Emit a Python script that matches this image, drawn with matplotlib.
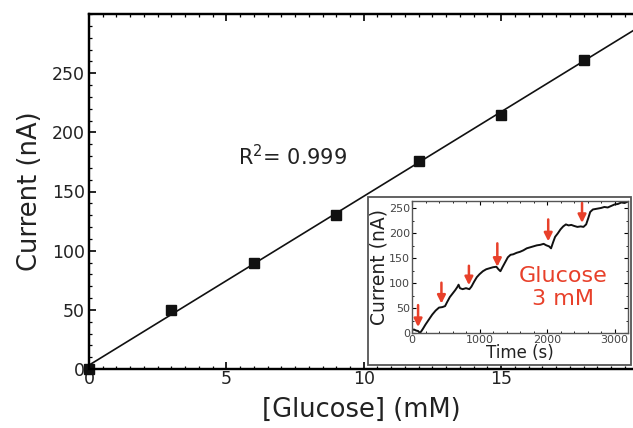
import numpy as np
import matplotlib
matplotlib.use("Agg")
import matplotlib.pyplot as plt
from matplotlib.patches import Rectangle
from matplotlib.ticker import MultipleLocator, FixedLocator

plt.rcParams['font.family'] = ['DejaVu Sans']

# ---- data ----
glucose_mM = [0, 3, 6, 9, 12, 15, 18]
current_nA = [0, 50, 90, 130, 176, 215, 261]
r2_text = "R$^2$= 0.999"

time_s = [0, 30, 60, 90, 110, 130, 160, 200, 250, 300, 350, 400, 450, 490, 520, 560,
          600, 640, 670, 690, 710, 750, 800, 850, 880, 920, 960, 1000, 1050, 1100,
          1150, 1200, 1250, 1280, 1310, 1340, 1380, 1420, 1460, 1500, 1550, 1600,
          1650, 1700, 1750, 1800, 1850, 1900, 1950, 1990, 2030, 2060, 2090, 2120,
          2160, 2200, 2240, 2280, 2320, 2360, 2400, 2450, 2500, 2540, 2580, 2610,
          2640, 2680, 2720, 2760, 2800, 2850, 2900, 2950, 3000, 3050, 3100, 3150, 3200]
trace_nA = [6, 7, 5, 4, 1, 2, 8, 17, 27, 37, 45, 51, 52, 54, 62, 72,
            79, 86, 92, 97, 90, 88, 90, 88, 93, 103, 112, 118, 124, 128,
            130, 132, 133, 128, 124, 132, 142, 152, 157, 158, 161, 163,
            166, 170, 172, 174, 176, 177, 179, 176, 174, 170, 182, 193,
            200, 208, 214, 218, 216, 217, 215, 213, 214, 213, 218, 230,
            243, 248, 249, 250, 251, 253, 252, 255, 258, 259, 262, 261, 264]
arrow_t = [90, 436, 843, 1264, 2018, 2519]
arrow_top = [56, 101, 135, 180, 228, 261]
arrow_tip = [12, 59, 96, 133, 184, 221]

RED = "#e8402a"
TXT = "#222222"

fig = plt.figure(figsize=(6.33, 4.28), dpi=100)
ax = fig.add_axes([89/633, 1-369/428, 1-89/633, (369-14)/428])

ax.plot(glucose_mM, current_nA, 's', color='#111111', markersize=7, clip_on=False, zorder=5)
slope, intercept = np.polyfit(glucose_mM, current_nA, 1)
xl = np.array([0, 19.8])
ax.plot(xl, slope*xl + intercept, color='#111111', lw=1.2)

ax.set_xlim(0, 19.8)
ax.set_ylim(0, 300)
ax.xaxis.set_major_locator(FixedLocator([0, 5, 10, 15]))
ax.xaxis.set_minor_locator(MultipleLocator(0.5))
ax.yaxis.set_major_locator(FixedLocator([0, 50, 100, 150, 200, 250]))
ax.yaxis.set_minor_locator(MultipleLocator(10))
ax.tick_params(axis='both', which='major', direction='in', length=5, width=1.2,
               labelsize=12.5, labelcolor=TXT, top=False, right=False)
ax.tick_params(axis='both', which='minor', direction='in', length=2.5, width=0.9,
               top=False, right=False)
ax.tick_params(axis='x', pad=1)
ax.tick_params(axis='y', pad=3)
for s in ['left', 'bottom', 'top']:
    ax.spines[s].set_linewidth(1.6)
ax.spines['right'].set_visible(False)

# top axis ticks (unlabelled)
axt = ax.twiny()
axt.set_xlim(ax.get_xlim())
step = 137.5/27.5
axt.xaxis.set_major_locator(FixedLocator([0, step, 2*step, 3*step]))
axt.xaxis.set_minor_locator(MultipleLocator(step/10))
axt.tick_params(axis='x', which='major', direction='in', length=5, width=1.2, labeltop=False)
axt.tick_params(axis='x', which='minor', direction='in', length=2.5, width=0.9)
axt.spines['right'].set_visible(False)
for s in ['left', 'bottom', 'top']:
    axt.spines[s].set_linewidth(1.6)

ax.set_xlabel("[Glucose] (mM)", fontsize=18.5, color=TXT, labelpad=6)
ax.set_ylabel("Current (nA)", fontsize=18.5, color=TXT, labelpad=6)
ax.text(0.274, 0.597, r2_text, transform=ax.transAxes, fontsize=15, color=TXT, va='center')

# inset frame
fig.patches.append(Rectangle((368/633, 1-365/428), (631-368)/633, (365-197)/428,
                             transform=fig.transFigure, facecolor='white',
                             edgecolor='#555555', lw=1.3, zorder=3))

ins = fig.add_axes([412/633, 1-333/428, (628-412)/633, (333-201)/428], zorder=4)
ins.plot(time_s, trace_nA, color='#111111', lw=1.4)
for t, y0, y1 in zip(arrow_t, arrow_top, arrow_tip):
    ins.annotate("", xy=(t, y1), xytext=(t, y0),
                 arrowprops=dict(arrowstyle='-|>', color=RED, lw=1.8, mutation_scale=12,
                                 shrinkA=0, shrinkB=0))
ins.set_xlim(0, 3200)
ins.set_ylim(0, 265)
ins.xaxis.set_major_locator(FixedLocator([0, 1000, 2000, 3000]))
ins.xaxis.set_minor_locator(MultipleLocator(200))
ins.yaxis.set_major_locator(FixedLocator([0, 50, 100, 150, 200, 250]))
ins.yaxis.set_minor_locator(MultipleLocator(25))
ins.tick_params(axis='both', which='major', direction='in', length=3, width=0.8,
                labelsize=8, labelcolor='#444444', pad=1.5, top=True, right=True)
ins.tick_params(axis='both', which='minor', direction='in', length=1.5, width=0.6,
                top=True, right=True)
for s in ins.spines.values():
    s.set_linewidth(1.0)
    s.set_edgecolor('#555555')
ins.set_xlabel("Time (s)", fontsize=12, color=TXT, labelpad=-1)
ins.set_ylabel("Current (nA)", fontsize=13.5, color=TXT, labelpad=0)
ins.text(0.70, 0.345, "Glucose\n3 mM", transform=ins.transAxes, color=RED,
         fontsize=16, ha='center', va='center', linespacing=1.15)

fig.savefig("out.png", dpi=100)
